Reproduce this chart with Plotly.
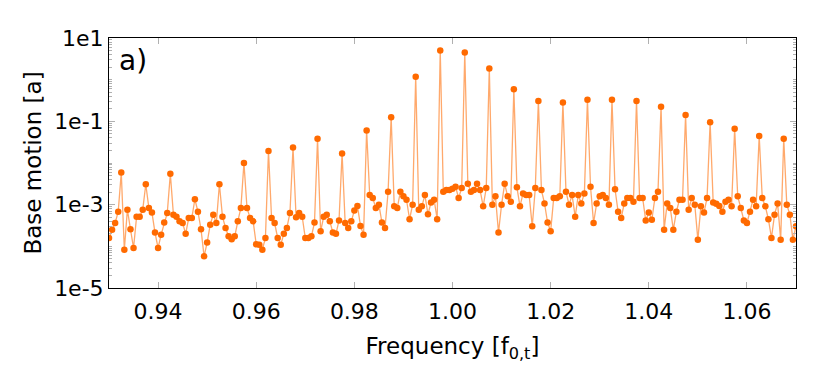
import numpy as np
import plotly.graph_objects as go

# frequency grid: 0.93 .. 1.07, 8 samples per 0.005 comb period
f_start = 0.93
f_step = 0.000625
n_pts = 225

# log10 of base motion (peaks at index 4, 12, 20, ...)
log_amp = [
    -3.80, -3.60, -3.44, -3.17,
    -2.23, -4.08, -3.12, -3.59, -4.04, -3.29, -3.29, -3.12,
    -2.51, -3.08, -3.19, -3.67, -4.04, -3.72, -3.43, -3.20,
    -2.26, -3.24, -3.29, -3.40, -3.44, -3.70, -3.32, -3.32,
    -2.87, -3.17, -3.59, -4.24, -3.91, -3.48, -3.24, -3.44,
    -2.51, -3.29, -3.56, -3.76, -3.83, -3.76, -3.40, -3.08,
    -2.00, -3.08, -3.32, -3.40, -3.95, -3.96, -4.08, -3.80,
    -1.71, -3.32, -3.44, -3.80, -3.96, -3.70, -3.56, -3.20,
    -1.63, -3.30, -3.20, -3.29, -3.80, -3.80, -3.76, -3.43,
    -1.42, -3.64, -3.29, -3.24, -3.40, -3.67, -3.70, -3.38,
    -1.77, -3.44, -3.56, -3.40, -3.14, -3.03, -3.51, -3.72,
    -1.22, -2.77, -2.84, -3.08, -3.00, -3.43, -3.56, -2.69,
    -0.90, -3.04, -3.08, -2.69, -2.80, -2.88, -3.35, -3.00,
    0.07, -3.12, -3.04, -2.77, -3.23, -2.95, -2.88, -3.35,
    0.70, -2.69, -2.65, -2.65, -2.62, -2.57, -2.84, -2.60,
    0.65, -2.50, -2.69, -2.65, -2.50, -2.65, -3.04, -2.60,
    0.27, -3.00, -2.80, -3.67, -3.00, -2.50, -2.80, -2.93,
    -0.23, -2.58, -3.04, -2.73, -2.77, -2.77, -3.52, -2.60,
    -0.51, -2.65, -2.97, -3.43, -3.64, -2.84, -2.84, -2.80,
    -0.55, -2.69, -3.00, -2.77, -3.29, -2.77, -2.97, -2.73,
    -0.48, -2.57, -3.44, -2.97, -2.80, -2.77, -2.84, -3.00,
    -0.48, -2.63, -3.17, -3.32, -2.97, -2.84, -2.84, -2.93,
    -0.51, -2.84, -2.84, -3.38, -3.19, -3.36, -2.84, -2.69,
    -0.65, -3.60, -2.97, -3.08, -3.60, -3.17, -2.88, -2.88,
    -0.85, -3.12, -2.84, -3.00, -3.84, -3.04, -3.19, -2.84,
    -1.02, -2.95, -2.98, -3.03, -3.17, -2.93, -2.88, -3.04,
    -1.18, -2.80, -3.08, -3.38, -3.44, -3.17, -2.88, -3.04,
    -1.35, -2.84, -3.04, -3.35, -3.80, -3.24, -2.97, -3.84,
    -1.42, -3.00, -3.24, -3.84, -3.52,
]

freq = f_start + f_step * np.arange(n_pts)
amp = 10.0 ** np.array(log_amp)

x_ticks = [0.94, 0.96, 0.98, 1.00, 1.02, 1.04, 1.06]
y_ticks = [1e-5, 1e-3, 1e-1, 1e1]
y_labels = ["1e-5", "1e-3", "1e-1", "1e1"]
y_minor = [m * 10.0 ** e for e in range(-5, 1) for m in range(2, 11)]

fig = go.Figure()
fig.add_trace(go.Scatter(
    x=freq, y=amp, mode="lines+markers",
    line=dict(color="rgba(255,112,10,0.6)", width=1.3),
    marker=dict(color="#ff6a00", size=6.5),
    showlegend=False,
))

fig.add_annotation(text="a)", x=0.012, y=0.985, xref="paper", yref="paper",
                   xanchor="left", yanchor="top", showarrow=False,
                   font=dict(size=28, color="black"))

axis_common = dict(showline=True, linecolor="black", linewidth=1, mirror="ticks",
                   ticks="inside", tickcolor="#b0b0b0", showgrid=False, zeroline=False,
                   tickfont=dict(size=22, color="black"))

fig.update_xaxes(range=[0.93, 1.07], tickvals=x_ticks, ticktext=[f"{v:.2f}" for v in x_ticks],
                 ticklen=6, ticklabelstandoff=4,
                 title=dict(text="Frequency [f<sub>0,t</sub>]", font=dict(size=23, color="black"), standoff=14),
                 **axis_common)
fig.update_yaxes(type="log", range=[-5, 1], tickvals=y_ticks, ticktext=y_labels, ticklen=6,
                 minor=dict(ticks="inside", ticklen=3, tickcolor="#b0b0b0", tickvals=y_minor),
                 title=dict(text="Base motion [a]", font=dict(size=23, color="black"), standoff=6),
                 **axis_common)

fig.update_layout(
    width=830, height=391,
    margin=dict(l=101, r=42, t=30, b=111),
    paper_bgcolor="white", plot_bgcolor="white",
    font=dict(family="DejaVu Sans", color="black"),
)

fig.write_html("out.html")
